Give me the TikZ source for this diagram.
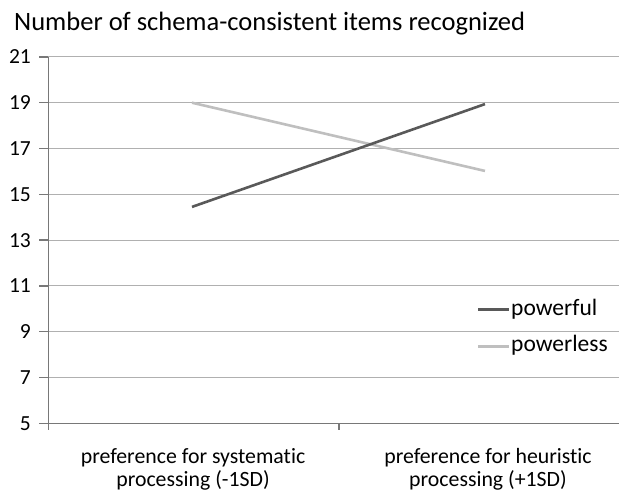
\documentclass[tikz,border=0pt]{standalone}
\usepackage{fontspec}
\setmainfont[Ligatures=NoCommon]{Carlito}
\usepackage{xcolor}
\usepackage{tikz}
\usetikzlibrary{positioning}

\begin{document}
\begin{tikzpicture}[x=1pt,y=-1pt]
    \definecolor{mydark}{RGB}{89,89,89}
    \definecolor{mylight}{RGB}{191,191,191}
    \definecolor{mygrid}{RGB}{176,176,176}
    \definecolor{myaxis}{RGB}{120,120,120}

    \tikzstyle{grid}=[mygrid,line width=1.1pt]  % horizontal grid lines
    \tikzstyle{axis}=[myaxis,line width=1.3pt]  % axes and tick marks
    \tikzstyle{powerful}=[mydark,line width=2.6pt]
    \tikzstyle{powerless}=[mylight,line width=2.6pt]
    \tikzstyle{ticklab}=[anchor=east,inner sep=0pt,font=\fontsize{21.5}{24}\selectfont]
    \tikzstyle{legtext}=[anchor=base west,inner sep=2pt,font=\fontsize{23.5}{24}\selectfont]
    \tikzstyle{xlab}=[anchor=base,align=center,inner sep=0pt,font=\fontsize{21.8}{23}\selectfont]

    \useasboundingbox (0,0) rectangle (619,493);

    % title
    \node[anchor=base west,inner sep=0pt,font=\fontsize{26.5}{28}\selectfont] (title) at (14,30.7) {Number of schema-consistent items recognized};

    % value axis: 5 at y=423.3, 22.9px per unit
    \begin{scope}[shift={(0,537.8)},y=22.9pt]
    \draw[grid] (48.3,7) -- (619,7);
    \draw[grid] (48.3,9) -- (619,9);
    \draw[grid] (48.3,11) -- (619,11);
    \draw[grid] (48.3,13) -- (619,13);
    \draw[grid] (48.3,15) -- (619,15);
    \draw[grid] (48.3,17) -- (619,17);
    \draw[grid] (48.3,19) -- (619,19);
    \draw[grid] (48.3,21) -- (619,21);

    % axes
    \draw[axis] (48.3,21) -- (48.3,5) -- (619,5);
    \draw[axis] (39.3,5) -- (48.3,5) (39.3,7) -- (48.3,7) (39.3,9) -- (48.3,9)
        (39.3,11) -- (48.3,11) (39.3,13) -- (48.3,13) (39.3,15) -- (48.3,15)
        (39.3,17) -- (48.3,17) (39.3,19) -- (48.3,19) (39.3,21) -- (48.3,21);
    \draw[axis] (48.3,5) -- (48.3,4.7) (339,5) -- (339,4.7);

    % tick labels
    \node[ticklab] (y5) at (31,5) {5};
    \node[ticklab] (y7) at (31,7) {7};
    \node[ticklab] (y9) at (31,9) {9};
    \node[ticklab] (y11) at (31,11) {11};
    \node[ticklab] (y13) at (31,13) {13};
    \node[ticklab] (y15) at (31,15) {15};
    \node[ticklab] (y17) at (31,17) {17};
    \node[ticklab] (y19) at (31,19) {19};
    \node[ticklab] (y21) at (31,21) {21};

    % data points
    \coordinate (pf1) at (192,14.45);
    \coordinate (pf2) at (485,18.94);
    \coordinate (pl1) at (192,19);
    \coordinate (pl2) at (485,16.02);
    \end{scope}

    % lines
    \draw[powerless] (pl1) -- (pl2);
    \draw[powerful] (pf1) -- (pf2);

    % legend
    \node[legtext] (lgpf) at (509,315) {powerful};
    \node[legtext,below=36.7pt of lgpf.base west,anchor=base west] (lgpl) {powerless};
    \coordinate (lg1) at (478,309.3);
    \coordinate (lg2) at (478,346.7);
    \draw[powerful] (lg1) -- (lg1 -| lgpf.west);
    \draw[powerless] (lg2) -- (lg2 -| lgpl.west);

    % category labels (base = second line)
    \node[xlab] (cat1) at (193,486) {preference for systematic\\processing (-1SD)};
    \node[xlab] (cat2) at (488,486) {preference for heuristic\\processing (+1SD)};
\end{tikzpicture}
\end{document}
